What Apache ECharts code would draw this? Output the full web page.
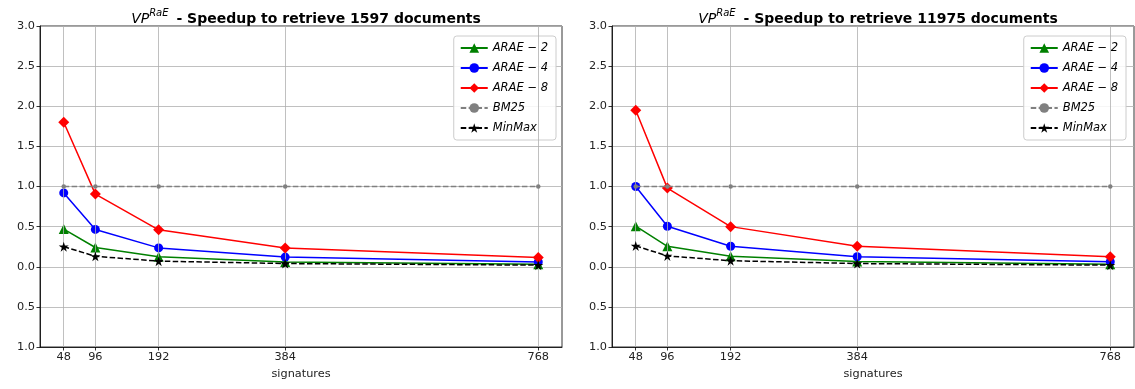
<!DOCTYPE html>
<html>
<head>
<meta charset="utf-8">
<script src="https://cdn.jsdelivr.net/npm/echarts@6/dist/echarts.min.js"></script>
<style>html,body{margin:0;padding:0;background:#fff}#c{width:1135px;height:389px}</style>
</head>
<body>
<div id="c"></div>
<script>
const signatures = [48, 96, 192, 384, 768];
const yTicks = [-1, -0.5, 0, 0.5, 1, 1.5, 2, 2.5, 3];
const seriesNames = ['ARAE \u2212 2', 'ARAE \u2212 4', 'ARAE \u2212 8', 'BM25', 'MinMax'];
const docCounts = ['1597', '11975'];

// Panel 1: 1597 documents
const p1_arae2 = [0.47, 0.24, 0.125, 0.06, 0.03];
const p1_arae4 = [0.92, 0.465, 0.235, 0.12, 0.06];
const p1_arae8 = [1.80, 0.905, 0.46, 0.235, 0.115];
const p1_bm25 = [1.0, 1.0, 1.0, 1.0, 1.0];
const p1_minmax = [0.25, 0.13, 0.07, 0.04, 0.02];

// Panel 2: 11975 documents
const p2_arae2 = [0.505, 0.255, 0.13, 0.065, 0.032];
const p2_arae4 = [1.0, 0.505, 0.255, 0.125, 0.063];
const p2_arae8 = [1.95, 0.98, 0.5, 0.255, 0.125];
const p2_bm25 = [1.0, 1.0, 1.0, 1.0, 1.0];
const p2_minmax = [0.26, 0.135, 0.075, 0.04, 0.02];

const FONT = 'DejaVu Sans';
const STAR = 'path://M50,0 L61.2,34.5 L97.6,34.5 L68.2,55.9 L79.4,90.5 L50,69.1 L20.6,90.5 L31.8,55.9 L2.4,34.5 L38.8,34.5 Z';

const styles = [
  {color: '#008000', symbol: 'triangle', size: 10, type: 'solid'},
  {color: '#0000ff', symbol: 'circle', size: 9, type: 'solid'},
  {color: '#ff0000', symbol: 'diamond', size: 11, type: 'solid'},
  {color: '#808080', symbol: 'circle', size: 4.5, type: [5.5, 2.4]},
  {color: '#000000', symbol: STAR, size: 10, type: [5.5, 2.4]}
];

const panels = [
  [p1_arae2, p1_arae4, p1_arae8, p1_bm25, p1_minmax],
  [p2_arae2, p2_arae4, p2_arae8, p2_bm25, p2_minmax]
];

const grids = [
  {left: 40, width: 522, top: 26, height: 321},
  {left: 612, width: 522, top: 26, height: 321}
];

const option = {
  animation: false,
  textStyle: {fontFamily: FONT},
  title: docCounts.map((d, i) => ({
    text: '{i|VP}{s|RaE}{b| - Speedup to retrieve ' + d + ' documents}',
    left: grids[i].left + grids[i].width / 2,
    textAlign: 'center',
    top: 3,
    textStyle: {
      fontWeight: 'normal',
      rich: {
        i: {fontFamily: FONT, fontStyle: 'italic', fontWeight: 'normal', fontSize: 14, lineHeight: 18, color: '#000', verticalAlign: 'bottom'},
        s: {fontFamily: FONT, fontStyle: 'italic', fontWeight: 'normal', fontSize: 10, lineHeight: 12, color: '#000', verticalAlign: 'top', padding: [0, 3, 0, 0]},
        b: {fontFamily: FONT, fontWeight: 'bold', fontSize: 14, lineHeight: 18, color: '#000', verticalAlign: 'bottom'}
      }
    }
  })),
  legend: [0, 1].map(i => ({
    data: seriesNames,
    orient: 'vertical',
    right: i === 0 ? 579 : 9,
    top: 36,
    itemWidth: 27,
    itemHeight: 12,
    itemGap: 8,
    padding: [6, 8, 6, 6],
    borderColor: '#cccccc',
    borderWidth: 1,
    borderRadius: 3,
    backgroundColor: 'rgba(255,255,255,0.85)',
    textStyle: {fontFamily: FONT, fontStyle: 'italic', fontSize: 11.5, color: '#000'},
    selectedMode: false
  })),
  grid: grids.map(g => Object.assign({show: true, borderColor: '#000', borderWidth: 0.8, backgroundColor: 'transparent'}, g)),
  xAxis: [0, 1].map(i => ({
    type: 'value',
    gridIndex: i,
    min: 12,
    max: 804,
    name: 'signatures',
    nameLocation: 'middle',
    nameGap: 22,
    nameTextStyle: {fontFamily: FONT, fontSize: 11.3, color: '#222'},
    axisLine: {show: true, onZero: false, lineStyle: {color: '#000', width: 0.8}},
    axisTick: {show: true, customValues: signatures, length: 3.5, lineStyle: {color: '#000', width: 0.8}},
    axisLabel: {customValues: signatures, fontFamily: FONT, fontSize: 11.3, color: '#222', margin: 5},
    splitLine: {show: false}
  })),
  yAxis: [0, 1].map(i => ({
    type: 'value',
    gridIndex: i,
    min: -1,
    max: 3,
    interval: 0.5,
    axisLine: {show: true, lineStyle: {color: '#000', width: 0.8}},
    axisTick: {show: true, length: 3.5, lineStyle: {color: '#000', width: 0.8}},
    axisLabel: {fontFamily: FONT, fontSize: 11.3, color: '#222', margin: 5,
      formatter: v => Math.abs(v).toFixed(1)},
    splitLine: {show: true, lineStyle: {color: '#b0b0b0', width: 0.8}}
  })),
  series: []
};

[0, 1].forEach(p => {
  option.series.push({
    type: 'line',
    name: '_grid' + p,
    xAxisIndex: p,
    yAxisIndex: p,
    data: [],
    z: 1,
    silent: true,
    markLine: {
      silent: true,
      symbol: ['none', 'none'],
      label: {show: false},
      lineStyle: {color: '#b0b0b0', type: 'solid', width: 0.8},
      emphasis: {disabled: true},
      data: signatures.map(s => ({xAxis: s}))
    }
  });
  panels[p].forEach((vals, k) => {
    const st = styles[k];
    option.series.push({
      type: 'line',
      name: seriesNames[k],
      xAxisIndex: p,
      yAxisIndex: p,
      data: signatures.map((s, j) => [s, vals[j]]),
      symbol: st.symbol,
      symbolSize: st.size,
      showAllSymbol: true,
      z: 3 + k,
      color: st.color,
      itemStyle: {color: st.color},
      lineStyle: {color: st.color, width: 1.5, type: st.type},
      emphasis: {disabled: true}
    });
  });
});

const chart = echarts.init(document.getElementById('c'), null, {renderer: 'canvas'});
chart.setOption(option);
</script>
</body>
</html>
